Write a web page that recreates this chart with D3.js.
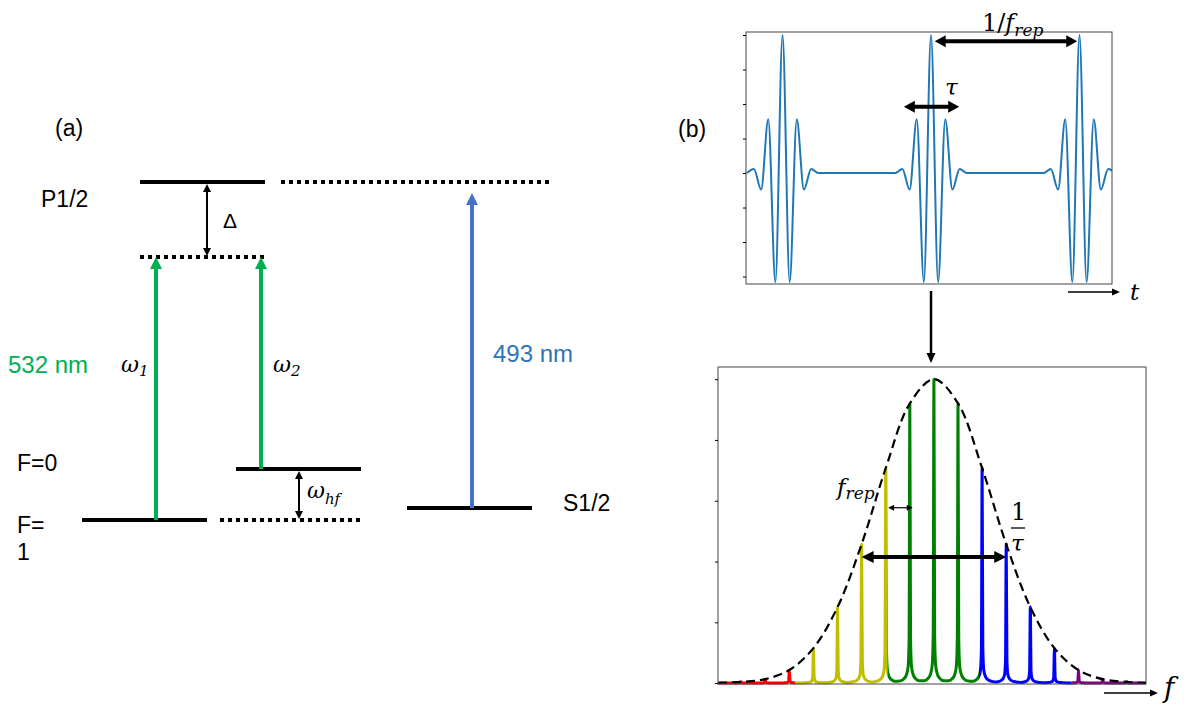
<!DOCTYPE html>
<html>
<head>
<meta charset="utf-8">
<script src="https://cdn.jsdelivr.net/npm/d3@7"></script>
<style>
  body { margin: 0; background: #fff; }
  svg { display: block; }
  .lbl { font-family: "Liberation Sans", Arial, sans-serif; fill: #000; }
  .math { font-family: "DejaVu Serif", serif; font-style: italic; fill: #000; }
</style>
</head>
<body>
<svg id="fig" width="1187" height="705"></svg>
<script>
// ---------- data ----------
// (a) energy levels, arbitrary units, F=1 ground level = 0
const levelNames  = ['F=1', 'F=0', 'S1/2', 'virtual', 'P1/2'];
const levelEnergy = [0, 1.02, 0.24, 5.26, 6.76];

// (b) top: pulse train, time in units of 1/f_rep
const pulseCenters = [-1, 0, 1];
const pulseOffsets = [-0.241, -0.193, -0.144, -0.096, -0.048, 0, 0.048, 0.096, 0.144, 0.193, 0.241];
const pulseAmps    = [0, 0.03, -0.12, 0.39, -0.79, 1, -0.79, 0.39, -0.12, 0.03, 0];
const timeTicks    = [-0.75, -0.5, -0.25, 0, 0.25, 0.5, 0.75, 1];

// (b) bottom: frequency comb, frequency in units of f_rep from the carrier
const combIndex   = [-8, -7, -6, -5, -4, -3, -2, -1, 0, 1, 2, 3, 4, 5, 6, 7, 8];
const combHeights = [0.004, 0.013, 0.043, 0.115, 0.25, 0.457, 0.707, 0.92, 1, 0.92, 0.707, 0.457, 0.25, 0.115, 0.043, 0.013, 0.004];
const toothOffsets = [-0.4, -0.25, -0.14, -0.07, -0.03, 0, 0.03, 0.07, 0.14, 0.25, 0.4];
const toothShape   = [0.008, 0.015, 0.03, 0.06, 0.16, 1, 0.16, 0.06, 0.03, 0.015, 0.008];
const bandEdges  = [-8.96, -5.77, -1.93, 1.87, 5.72, 8.8];
const bandColors = ['#ff0000', '#bfbf00', '#008000', '#0000ff', '#800080'];
const specTicks  = [0, 0.2, 0.4, 0.6, 0.8, 1];

// ---------- layout ----------
const svg = d3.select('#fig');
const level = name => levelEnergy[levelNames.indexOf(name)];

const yA = d3.scaleLinear().domain([0, 6.76]).range([520, 182]);
const xT = d3.scaleLinear().domain([-1.246, 1.219]).range([746, 1112]);
const yT = d3.scaleLinear().domain([-0.804, 1.022]).range([284, 32]);
const xB = d3.scaleLinear().domain([-8.96, 8.8]).range([718, 1146]);
const yB = d3.scaleLinear().domain([-0.003, 1.04]).range([684, 367]);

function arrow(g, x1, y1, x2, y2, o) {
  const dx = x2 - x1, dy = y2 - y1, L = Math.hypot(dx, dy);
  const ux = dx / L, uy = dy / L, px = -uy, py = ux;
  let sx = x1, sy = y1, ex = x2, ey = y2;
  if (o.start) { sx += ux * o.hl * 0.8; sy += uy * o.hl * 0.8; }
  if (o.end !== false) { ex -= ux * o.hl * 0.8; ey -= uy * o.hl * 0.8; }
  g.append('line')
    .attr('x1', sx).attr('y1', sy).attr('x2', ex).attr('y2', ey)
    .attr('stroke', o.color || '#000').attr('stroke-width', o.w);
  const head = (tx, ty, ddx, ddy) => {
    const bx = tx - ddx * o.hl, by = ty - ddy * o.hl;
    g.append('path')
      .attr('d', `M${tx},${ty}L${bx + px * o.hw},${by + py * o.hw}L${bx - px * o.hw},${by - py * o.hw}Z`)
      .attr('fill', o.color || '#000');
  };
  if (o.end !== false) head(x2, y2, ux, uy);
  if (o.start) head(x1, y1, -ux, -uy);
}

function sub(g, cls, x, y, main, subText, size, subSize, subDy) {
  const t = g.append('text').attr('class', cls).attr('x', x).attr('y', y).style('font-size', size + 'px');
  t.append('tspan').text(main);
  t.append('tspan').attr('dy', subDy).style('font-size', subSize + 'px').text(subText);
  return t;
}

// ---------- (a) level diagram ----------
const ga = svg.append('g');

const bars = [
  {lv: 'P1/2', x0: 140, x1: 265, dotted: false},
  {lv: 'P1/2', x0: 281, x1: 553, dotted: true},
  {lv: 'virtual', x0: 140, x1: 265, dotted: true},
  {lv: 'F=0', x0: 236, x1: 361, dotted: false},
  {lv: 'F=1', x0: 82, x1: 207, dotted: false},
  {lv: 'F=1', x0: 220, x1: 360, dotted: true},
  {lv: 'S1/2', x0: 407, x1: 532, dotted: false}
];

ga.selectAll('line.level')
  .data(bars)
  .enter()
  .append('line')
    .attr('class', 'level')
    .attr('x1', d => d.x0)
    .attr('x2', d => d.x1)
    .attr('y1', d => yA(level(d.lv)))
    .attr('y2', d => yA(level(d.lv)))
    .attr('stroke', '#000')
    .attr('stroke-width', 4)
    .attr('stroke-dasharray', d => d.dotted ? '4,4' : null);

// laser arrows
arrow(ga, 156, yA(level('F=1')), 156, yA(level('virtual')), {w: 4, hl: 12, hw: 6, color: '#00b050'});
arrow(ga, 261, yA(level('F=0')), 261, yA(level('virtual')), {w: 4, hl: 12, hw: 6, color: '#00b050'});
arrow(ga, 472, yA(level('S1/2')), 472, yA(level('P1/2')) + 11, {w: 4, hl: 12, hw: 6, color: '#4472c4'});
// detuning and hyperfine splitting
arrow(ga, 207, yA(level('P1/2')) + 2, 207, yA(level('virtual')) - 1, {w: 2, hl: 8, hw: 4, start: true});
arrow(ga, 299, yA(level('F=0')) + 2, 299, yA(level('F=1')) - 1, {w: 2, hl: 8, hw: 4, start: true});

ga.append('text').attr('class', 'lbl').attr('x', 55).attr('y', 136).style('font-size', '23px').text('(a)');
ga.append('text').attr('class', 'lbl').attr('x', 41).attr('y', 207).style('font-size', '23px').text('P1/2');
ga.append('text').attr('class', 'lbl').attr('x', 223).attr('y', 228).style('font-size', '21px').text('Δ');
ga.append('text').attr('class', 'lbl').attr('x', 8).attr('y', 373).style('font-size', '24px').style('fill', '#00b050').text('532 nm');
ga.append('text').attr('class', 'lbl').attr('x', 493).attr('y', 362).style('font-size', '24px').style('fill', '#2e75b6').text('493 nm');
ga.append('text').attr('class', 'lbl').attr('x', 17).attr('y', 471).style('font-size', '23px').text('F=0');
ga.append('text').attr('class', 'lbl').attr('x', 17).attr('y', 533).style('font-size', '23px').text('F=');
ga.append('text').attr('class', 'lbl').attr('x', 17).attr('y', 560).style('font-size', '23px').text('1');
ga.append('text').attr('class', 'lbl').attr('x', 563).attr('y', 511).style('font-size', '23px').text('S1/2');
sub(ga, 'math', 121, 372, 'ω', '1', 22, 15, 4);
sub(ga, 'math', 273, 372, 'ω', '2', 22, 15, 4);
sub(ga, 'math', 307, 498, 'ω', 'hf', 22, 15, 6);

// ---------- (b) top: pulse train ----------
const gt = svg.append('g');
gt.append('text').attr('class', 'lbl').attr('x', 678).attr('y', 137).style('font-size', '23px').text('(b)');

const defs = svg.append('defs');
defs.append('clipPath').attr('id', 'clipT').append('rect')
  .attr('x', xT.range()[0]).attr('y', yT.range()[1])
  .attr('width', xT.range()[1] - xT.range()[0]).attr('height', yT.range()[0] - yT.range()[1]);

const pulsePts = [];
pulseCenters.forEach(c => pulseOffsets.forEach((o, i) => pulsePts.push([c + o, pulseAmps[i]])));

gt.append('path')
  .datum(pulsePts)
  .attr('clip-path', 'url(#clipT)')
  .attr('fill', 'none')
  .attr('stroke', '#1f77b4')
  .attr('stroke-width', 2)
  .attr('d', d3.line().x(d => xT(d[0])).y(d => yT(d[1])).curve(d3.curveMonotoneX));

gt.append('rect')
  .attr('x', xT.range()[0]).attr('y', yT.range()[1])
  .attr('width', xT.range()[1] - xT.range()[0]).attr('height', yT.range()[0] - yT.range()[1])
  .attr('fill', 'none').attr('stroke', '#444').attr('stroke-width', 1);

const yAxisT = gt.append('g')
  .attr('transform', `translate(${xT.range()[0]},0)`)
  .call(d3.axisLeft(yT).tickValues(timeTicks).tickSize(3).tickFormat(''));
yAxisT.select('.domain').remove();

arrow(gt, xT(0.025), yT(0.955), xT(0.985), yT(0.955), {w: 4, hl: 11, hw: 6, start: true});
arrow(gt, xT(-0.183), yT(0.48), xT(0.19), yT(0.48), {w: 4, hl: 11, hw: 6, start: true});

const frepLbl = gt.append('text').attr('class', 'math').attr('x', 982).attr('y', 31).style('font-size', '24px');
frepLbl.append('tspan').style('font-style', 'normal').text('1/');
frepLbl.append('tspan').text('f');
frepLbl.append('tspan').attr('dy', 5).style('font-size', '17px').text('rep');
gt.append('text').attr('class', 'math').attr('x', 945).attr('y', 95).style('font-size', '23px').text('τ');

// time axis arrow
arrow(gt, 1068, 292, 1120, 292, {w: 1.5, hl: 8, hw: 3.5});
gt.append('text').attr('class', 'math').attr('x', 1130).attr('y', 300).style('font-size', '23px').text('t');

// Fourier transform arrow
arrow(svg, xT(0), 291, xT(0), 363, {w: 2.5, hl: 10, hw: 4.5});

// ---------- (b) bottom: frequency comb ----------
const gb = svg.append('g');

const combPts = [[bandEdges[0], 0]];
combIndex.forEach((n, k) => toothOffsets.forEach((o, i) => combPts.push([n + o, combHeights[k] * toothShape[i]])));
combPts.push([bandEdges[bandEdges.length - 1], 0]);

const combLine = d3.line().x(d => xB(d[0])).y(d => yB(d[1])).curve(d3.curveMonotoneX);

bandColors.forEach((col, i) => {
  defs.append('clipPath').attr('id', 'band' + i).append('rect')
    .attr('x', xB(bandEdges[i])).attr('y', yB.range()[1] - 5)
    .attr('width', xB(bandEdges[i + 1]) - xB(bandEdges[i]))
    .attr('height', yB.range()[0] - yB.range()[1] + 8);
  gb.append('path')
    .datum(combPts)
    .attr('clip-path', `url(#band${i})`)
    .attr('fill', 'none')
    .attr('stroke', col)
    .attr('stroke-width', 3)
    .attr('stroke-linejoin', 'round')
    .attr('d', combLine);
});

const envPts = [[bandEdges[0], 0.001]]
  .concat(combIndex.map((n, k) => [n, combHeights[k]]))
  .concat([[bandEdges[bandEdges.length - 1], 0.001]]);

gb.append('path')
  .datum(envPts)
  .attr('fill', 'none')
  .attr('stroke', '#000')
  .attr('stroke-width', 2.2)
  .attr('stroke-dasharray', '9,5')
  .attr('d', d3.line().x(d => xB(d[0])).y(d => yB(d[1])).curve(d3.curveCatmullRom));

gb.append('rect')
  .attr('x', xB.range()[0]).attr('y', yB.range()[1])
  .attr('width', xB.range()[1] - xB.range()[0]).attr('height', yB.range()[0] - yB.range()[1])
  .attr('fill', 'none').attr('stroke', '#444').attr('stroke-width', 1);

const yAxisB = gb.append('g')
  .attr('transform', `translate(${xB.range()[0]},0)`)
  .call(d3.axisLeft(yB).tickValues(specTicks).tickSize(3).tickFormat(''));
yAxisB.select('.domain').remove();

arrow(gb, xB(-3), yB(0.415), xB(3), yB(0.415), {w: 4, hl: 12, hw: 6, start: true});
arrow(gb, xB(-1.9), yB(0.577), xB(-0.88), yB(0.577), {w: 1.2, hl: 6, hw: 3, start: true});

sub(gb, 'math', 837, 495, 'f', 'rep', 23, 17, 4);
gb.append('text').attr('class', 'math').attr('x', 1011).attr('y', 520).style('font-size', '24px').style('font-style', 'normal').text('1');
gb.append('line').attr('x1', 1011).attr('x2', 1025).attr('y1', 528).attr('y2', 528).attr('stroke', '#000').attr('stroke-width', 1.3);
gb.append('text').attr('class', 'math').attr('x', 1011).attr('y', 551).style('font-size', '23px').text('τ');

// frequency axis arrow
arrow(gb, 1104, 693, 1158, 693, {w: 1.5, hl: 8, hw: 3.5});
gb.append('text').attr('class', 'math').attr('x', 1164).attr('y', 697).style('font-size', '28px').text('f');
</script>
</body>
</html>
